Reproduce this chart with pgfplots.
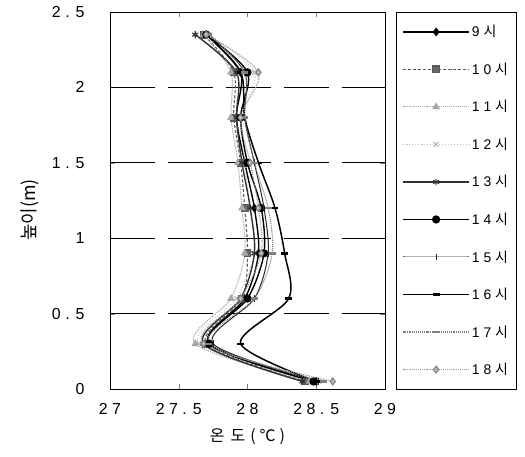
\documentclass[border=0pt]{standalone}
\usepackage{pgfplots}
\pgfplotsset{compat=1.18}
\usepackage{fontspec}
\setmainfont{Liberation Sans}
\newfontfamily\kr{Noto Sans CJK KR}
\begin{document}
\begin{tikzpicture}
\begin{axis}[
  name=ax,
  scale only axis,
  width=275bp, height=377bp,
  xmin=27, xmax=29, ymin=0, ymax=2.5,
  xtick={27,27.5,28,28.5,29},
  xticklabels={2 7, 2 7 . 5, 2 8, 2 8 . 5, 2 9},
  ytick={0,0.5,1,1.5,2,2.5},
  yticklabels={0, 0 . 5, 1, 1 . 5, 2, 2 . 5},
  tick label style={font=\fontsize{16}{16}\selectfont},
  xticklabel style={yshift=-11bp},
  yticklabel style={xshift=-22bp},
  tick align=inside,
  major tick length=5bp,
  axis line style={black, line width=0.8bp},
  extra y ticks={0.5,1,1.5,2},
  extra y tick labels={},
  extra y tick style={grid=major, major tick length=0pt},
  grid style={black, line width=1bp, dash pattern=on 45bp off 13bp},
  xlabel={{\kr 온\hspace{6bp}도\hspace{5bp}(\hspace{4bp}℃\hspace{4bp})}},
  ylabel={{\kr 높이(m)}},
  label style={font=\fontsize{16}{16}\selectfont},
  ylabel style={font=\fontsize{18}{18}\selectfont},
  xlabel style={at={(axis description cs:0.5,-0.127)}, anchor=center},
  ylabel style={at={(axis description cs:-0.29,0.475)}, anchor=center},
  legend style={at={(1.04,1)}, anchor=north west, draw=black, line width=0.8bp,
    font=\fontsize{14}{14}\selectfont, row sep=20.5bp, inner ysep=11bp, inner xsep=6bp},
  legend cell align=left,
  legend image code/.code={\draw[mark repeat=2,mark phase=2] plot coordinates {(0bp,0bp) (33bp,0bp) (66bp,0bp)};},
  every axis plot/.append style={smooth, mark size=3.4bp},
]
% 9 h
\addplot[black, line width=1.4bp, mark=diamond*, mark options={solid, fill=black}] coordinates {
(28.50,0.05) (27.72,0.3) (27.98,0.6) (28.08,0.9) (28.05,1.2) (27.98,1.5) (27.92,1.8) (27.95,2.1) (27.70,2.35)};
% 10 h
\addplot[black!65, line width=1.1bp, densely dashed, mark=square*, mark options={solid, fill=black!60}] coordinates {
(28.42,0.05) (27.70,0.3) (27.96,0.6) (28.00,0.9) (27.98,1.2) (27.95,1.5) (27.90,1.8) (27.90,2.1) (27.68,2.35)};
% 11 h
\addplot[black!35, line width=1.1bp, densely dotted, mark=triangle*, mark options={solid, fill=black!35}] coordinates {
(28.45,0.05) (27.62,0.3) (27.88,0.6) (27.98,0.9) (27.96,1.2) (27.93,1.5) (27.88,1.8) (27.88,2.1) (27.68,2.35)};
% 12 h
\addplot[black!25, line width=1bp, dotted, mark=x, mark options={solid, black!30}] coordinates {
(28.52,0.05) (27.65,0.3) (27.92,0.6) (28.05,0.9) (28.02,1.2) (27.98,1.5) (27.95,1.8) (28.05,2.1) (27.72,2.35)};
% 13 h
\addplot[black!80, line width=1.4bp, mark=asterisk, mark options={solid, line width=1.2bp}] coordinates {
(28.40,0.05) (27.68,0.3) (27.95,0.6) (28.05,0.9) (28.02,1.2) (27.96,1.5) (27.92,1.8) (27.92,2.1) (27.62,2.35)};
% 14 h
\addplot[black, line width=1.4bp, mark=*, mark options={solid, fill=black}] coordinates {
(28.48,0.05) (27.72,0.3) (28.00,0.6) (28.12,0.9) (28.10,1.2) (28.00,1.5) (27.95,1.8) (28.00,2.1) (27.70,2.35)};
% 15 h
\addplot[black!85, line width=1bp, mark=|, mark options={solid}] coordinates {
(28.52,0.05) (27.75,0.3) (28.05,0.6) (28.15,0.9) (28.12,1.2) (28.05,1.5) (27.98,1.8) (27.98,2.1) (27.72,2.35)};
% 16 h
\addplot[black, line width=1.5bp, mark=-, mark options={solid, line width=2.5bp}] coordinates {
(28.50,0.05) (27.95,0.3) (28.30,0.6) (28.27,0.9) (28.20,1.2) (28.08,1.5) (27.98,1.8) (27.95,2.1) (27.70,2.35)};
% 17 h
\addplot[black!50, line width=1.1bp, densely dotted, mark=-, mark options={solid, line width=2.5bp}] coordinates {
(28.55,0.05) (27.72,0.3) (28.05,0.6) (28.18,0.9) (28.15,1.2) (28.05,1.5) (27.98,1.8) (27.98,2.1) (27.72,2.35)};
% 18 h
\addplot[black!40, line width=1.1bp, densely dotted, mark=diamond*, mark options={solid, fill=black!25, draw=black!50}] coordinates {
(28.62,0.05) (27.68,0.3) (27.95,0.6) (28.10,0.9) (28.08,1.2) (28.02,1.5) (27.95,1.8) (28.08,2.1) (27.70,2.35)};
\legend{9 {\kr 시}, 1 0 {\kr 시}, 1 1 {\kr 시}, 1 2 {\kr 시}, 1 3 {\kr 시}, 1 4 {\kr 시}, 1 5 {\kr 시}, 1 6 {\kr 시}, 1 7 {\kr 시}, 1 8 {\kr 시}}
\end{axis}
\path (ax.south west) ++(-110bp,-68bp) rectangle ++(525bp,457bp);
\end{tikzpicture}
\end{document}
